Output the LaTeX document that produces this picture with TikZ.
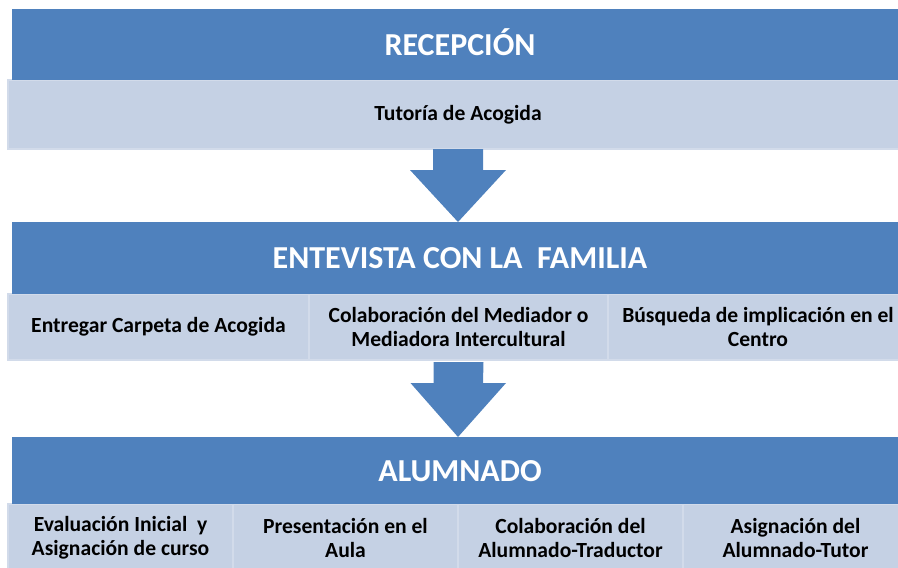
\documentclass[tikz,border=0pt]{standalone}
\usepackage{fontspec}
\setmainfont{Carlito}
\definecolor{azulcab}{RGB}{79,129,189}
\definecolor{azulcel}{RGB}{197,209,228}
\definecolor{bordecel}{RGB}{210,219,234}

\begin{document}
\begin{tikzpicture}[x=1pt,y=-1pt,
	cabeza/.style={fill=azulcab, inner sep=0pt, outer sep=0pt, anchor=north west, text=white, text height=21pt, text depth=0pt, font=\fontsize{32}{38}\selectfont\bfseries},
	celda/.style={fill=azulcel, draw=bordecel, line width=2.5pt, inner sep=0pt, outer sep=0pt, anchor=north west, align=center, font=\fontsize{21.6}{24}\selectfont\bfseries},
	flecha/.style={fill=azulcab}]
	\useasboundingbox (0,0) rectangle (898,568);
	\clip (0,0) rectangle (898,568);
	%%%% Recepcion
	\node [celda, minimum width=900pt, minimum height=69pt] (tutoria) at (8,80) {Tutoría de Acogida};
	\node [cabeza, minimum width=896pt, minimum height=71pt] (recepcion) at (12,9) {RECEPCIÓN};
	%%%% Entrevista con la familia
	\node [celda, minimum width=301pt, minimum height=66pt] (carpeta) at (8,294) {Entregar Carpeta de Acogida};
	\node [celda, minimum width=299pt, minimum height=66pt] (mediador) at (309,294) {Colaboración del Mediador o\\Mediadora Intercultural};
	\node [celda, minimum width=300pt, minimum height=66pt] (busqueda) at (608,294) {Búsqueda de implicación en el\\Centro};
	\node [cabeza, minimum width=896pt, minimum height=72pt] (entrevista) at (12,222) {ENTEVISTA CON LA\ \ FAMILIA};
	%%%% Alumnado
	\node [celda, minimum width=225pt, minimum height=68pt] (evaluacion) at (8,504) {Evaluación Inicial\ \ y\\Asignación de curso};
	\node [celda, minimum width=225pt, minimum height=68pt] (presentacion) at (233,504) {Presentación en el\\Aula};
	\node [celda, minimum width=225pt, minimum height=68pt] (traductor) at (458,504) {Colaboración del\\Alumnado-Traductor};
	\node [celda, minimum width=225pt, minimum height=68pt] (tutor) at (683,504) {Asignación del\\Alumnado-Tutor};
	\node [cabeza, minimum width=896pt, minimum height=67pt] (alumnado) at (12,437) {ALUMNADO};
	% Flecha 1
	\fill [flecha] ([xshift=-25pt]tutoria.south) -- ++(0,21) -- ++(-23,0) -- ([xshift=-2pt]entrevista.north) -- ++(48,-52) -- ++(-23,0) -- ([xshift=25pt]tutoria.south) -- cycle;
	% Flecha 2
	\fill [flecha] ([xshift=-25pt,yshift=-2pt]mediador.south) -- ++(0,21) -- ++(-23,0) -- ([xshift=-2pt]alumnado.north) -- ++(48,-54) -- ++(-23,0) -- ([xshift=25pt,yshift=-2pt]mediador.south) -- cycle;
\end{tikzpicture}
\end{document}
